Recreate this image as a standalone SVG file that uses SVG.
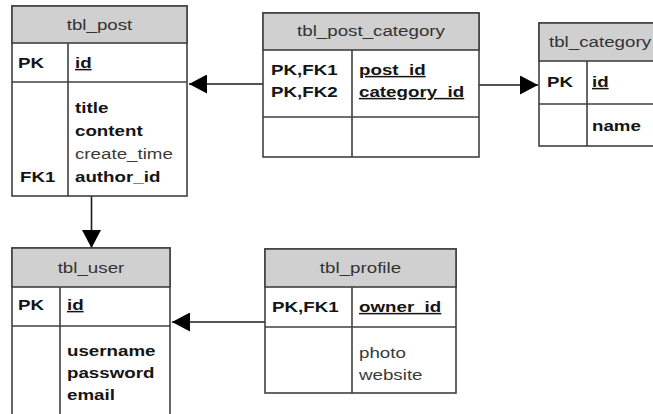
<svg xmlns="http://www.w3.org/2000/svg" width="653" height="414" viewBox="0 0 653 414">
<style>
.box{fill:#ffffff;stroke:#404040;stroke-width:1.6}
.hdr{fill:#d0d0d0;stroke:#404040;stroke-width:1.6}
.ln{stroke:#404040;stroke-width:1.6;fill:none}
text{font-family:"Liberation Sans",Arial,sans-serif;font-size:15px}
.h{fill:#333333;text-anchor:middle}
.b{font-weight:bold;fill:#141414}
.r{fill:#3a3a3a}
.u{text-decoration:underline}
.conn{stroke:#1a1a1a;stroke-width:1.6;fill:none}
</style>
<defs>
<marker id="arr" markerUnits="userSpaceOnUse" markerWidth="19" markerHeight="19" refX="18" refY="9.5" orient="auto">
<path d="M0,0 L18,9.5 L0,19 Z" fill="#000000"/>
</marker>
</defs>

<g id="connectors">
<line class="conn" x1="263" y1="84" x2="189" y2="84" marker-end="url(#arr)"/>
<line class="conn" x1="479" y1="85" x2="538" y2="85" marker-end="url(#arr)"/>
<line class="conn" x1="91.5" y1="196" x2="91.5" y2="248" marker-end="url(#arr)"/>
<line class="conn" x1="265" y1="322" x2="172" y2="322" marker-end="url(#arr)"/>
</g>

<g id="tbl_post">
<rect class="box" x="12" y="6" width="175" height="190"/>
<rect class="hdr" x="12" y="6" width="175" height="37"/>
<line class="ln" x1="12" y1="82" x2="187" y2="82"/>
<line class="ln" x1="68" y1="43" x2="68" y2="196"/>
<g transform="scale(1.25,1)">
<text class="h" x="79.6" y="30">tbl_post</text>
<text class="b" x="14.4" y="68">PK</text>
<text class="b u" x="60" y="68">id</text>
<text class="b" x="60" y="113">title</text>
<text class="b" x="60" y="136">content</text>
<text class="r" x="60" y="159">create_time</text>
<text class="b" x="16" y="182">FK1</text>
<text class="b" x="60" y="182">author_id</text>
</g>
</g>

<g id="tbl_post_category">
<rect class="box" x="263" y="13" width="216" height="144"/>
<rect class="hdr" x="263" y="13" width="216" height="37"/>
<line class="ln" x1="263" y1="117" x2="479" y2="117"/>
<line class="ln" x1="352" y1="50" x2="352" y2="157"/>
<g transform="scale(1.25,1)">
<text class="h" x="296.8" y="36">tbl_post_category</text>
<text class="b" x="216.8" y="75">PK,FK1</text>
<text class="b" x="216.8" y="97">PK,FK2</text>
<text class="b u" x="287.2" y="75">post_id</text>
<text class="b u" x="287.2" y="97">category_id</text>
</g>
</g>

<g id="tbl_category">
<rect class="box" x="539" y="23" width="122" height="123"/>
<rect class="hdr" x="539" y="23" width="122" height="38"/>
<line class="ln" x1="539" y1="104" x2="661" y2="104"/>
<line class="ln" x1="587" y1="61" x2="587" y2="146"/>
<g transform="scale(1.25,1)">
<text class="h" x="480" y="47">tbl_category</text>
<text class="b" x="437.6" y="87">PK</text>
<text class="b u" x="473.6" y="87">id</text>
<text class="b" x="473.6" y="131.5">name</text>
</g>
</g>

<g id="tbl_user">
<rect class="box" x="12" y="248" width="158" height="190"/>
<rect class="hdr" x="12" y="248" width="158" height="39"/>
<line class="ln" x1="12" y1="326" x2="170" y2="326"/>
<line class="ln" x1="60" y1="287" x2="60" y2="438"/>
<g transform="scale(1.25,1)">
<text class="h" x="72.8" y="273">tbl_user</text>
<text class="b" x="14.4" y="310">PK</text>
<text class="b u" x="53.6" y="310">id</text>
<text class="b" x="53.6" y="356">username</text>
<text class="b" x="53.6" y="378">password</text>
<text class="b" x="53.6" y="400">email</text>
</g>
</g>

<g id="tbl_profile">
<rect class="box" x="265" y="249" width="191" height="144"/>
<rect class="hdr" x="265" y="249" width="191" height="38"/>
<line class="ln" x1="265" y1="327" x2="456" y2="327"/>
<line class="ln" x1="352" y1="287" x2="352" y2="393"/>
<g transform="scale(1.25,1)">
<text class="h" x="288.4" y="273">tbl_profile</text>
<text class="b" x="217.6" y="312">PK,FK1</text>
<text class="b u" x="287.2" y="312">owner_id</text>
<text class="r" x="287.2" y="358">photo</text>
<text class="r" x="287.2" y="380">website</text>
</g>
</g>
</svg>
